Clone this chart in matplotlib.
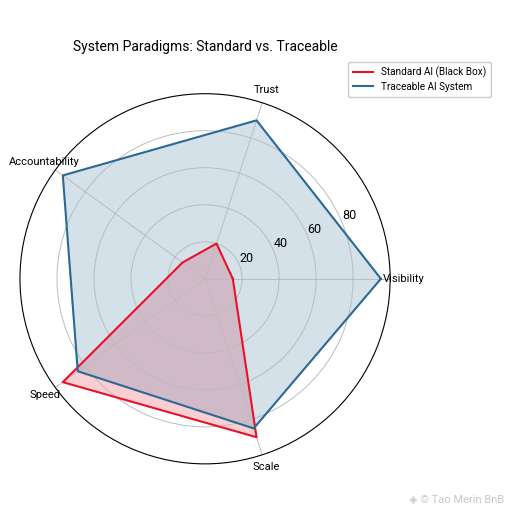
import numpy as np
from matplotlib import pyplot as plt

plt.rcParams["font.family"] = ["Roboto", "DejaVu Sans"]

categories = ["Visibility", "Trust", "Accountability", "Speed", "Scale"]
standard_ai = [15, 20, 15, 95, 90]
traceable_ai = [95, 90, 95, 85, 85]
radial_ticks = [20, 40, 60, 80]

RED = "#e8132b"
BLUE = "#2c6a93"

angles = np.linspace(0, 2 * np.pi, len(categories), endpoint=False)
closed = np.concatenate([angles, angles[:1]])


def close(values):
    return list(values) + [values[0]]


fig = plt.figure(figsize=(5.12, 5.12), dpi=100)
ax = fig.add_axes([0.039, 0.094, 0.723, 0.723], polar=True)

ax.plot(closed, close(standard_ai), color=RED, linewidth=1.5, label="Standard AI (Black Box)")
ax.fill(closed, close(standard_ai), color=RED, alpha=0.2)
ax.plot(closed, close(traceable_ai), color=BLUE, linewidth=1.5, label="Traceable AI System")
ax.fill(closed, close(traceable_ai), color=BLUE, alpha=0.2)

ax.set_ylim(0, 100)
ax.set_yticks(radial_ticks)
ax.set_yticklabels([str(t) for t in radial_ticks], fontsize=9)
ax.set_xticks(angles)
ax.set_xticklabels(categories, fontsize=8)
ax.tick_params(axis="x", pad=-1)
ax.grid(color="#bcbcbc", linewidth=0.7)
ax.spines["polar"].set_linewidth(0.8)

ax.set_title("System Paradigms: Standard vs. Traceable", fontsize=10, pad=31)
ax.legend(loc="upper right", bbox_to_anchor=(1.286, 1.10), fontsize=7.2,
          framealpha=1, borderpad=0.5, labelspacing=0.35)

fig.text(0.985, 0.015, "\u25c8 \u00a9 Tao Merin BnB", ha="right", va="bottom",
         fontsize=8, color="#c8c8c8", family=["Roboto", "DejaVu Sans"])

fig.savefig("out.png", dpi=100)
